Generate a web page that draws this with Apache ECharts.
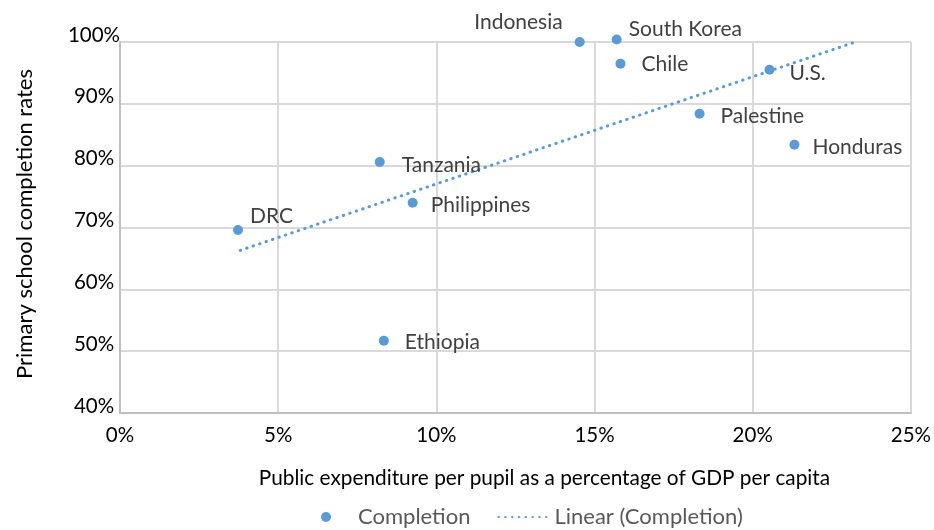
<!DOCTYPE html>
<html>
<head>
<meta charset="utf-8">
<script src="https://cdn.jsdelivr.net/npm/echarts@6/dist/echarts.min.js"></script>
<style>html,body{margin:0;padding:0;background:#fff}#c{width:934px;height:530px}</style>
</head>
<body>
<div id="c"></div>
<script>
// Data (percent values)
const countries = ['DRC','Tanzania','Philippines','Ethiopia','Indonesia','South Korea','Chile','U.S.','Palestine','Honduras'];
const expenditure = [3.73, 8.21, 9.25, 8.34, 14.53, 15.70, 15.82, 20.53, 18.32, 21.32];
const completion = [69.6, 80.6, 74.0, 51.7, 100.0, 100.4, 96.5, 95.5, 88.4, 83.4];
const trendX = [3.8, 23.3];
const trendY = [66.3, 100.1];
const xTicks = [0, 5, 10, 15, 20, 25];
const yTicks = [40, 50, 60, 70, 80, 90, 100];

// Label placement styles (not data)
const labelStyle = {
  'DRC': {position: 'right', distance: 7, offset: [0, -14]},
  'Tanzania': {position: 'right', distance: 17, offset: [0, 3]},
  'Philippines': {position: 'right', distance: 13, offset: [0, 2]},
  'Ethiopia': {position: 'right', distance: 16, offset: [0, 2]},
  'Indonesia': {position: 'left', distance: 12, offset: [0, -20]},
  'South Korea': {position: 'right', distance: 7, offset: [0, -10]},
  'Chile': {position: 'right', distance: 16, offset: [0, 1]},
  'U.S.': {position: 'right', distance: 15, offset: [0, 3]},
  'Palestine': {position: 'right', distance: 16, offset: [0, 3]},
  'Honduras': {position: 'right', distance: 13, offset: [0, 3]}
};

const FONT = 'Lato, "Noto Sans", sans-serif';
const blue = '#5b9bd5';

const scatterData = countries.map((n, i) => ({
  name: n,
  value: [expenditure[i], completion[i]],
  label: Object.assign({show: true, formatter: n}, labelStyle[n])
}));
const trendData = trendX.map((x, i) => [x, trendY[i]]);

const chart = echarts.init(document.getElementById('c'), null, {renderer: 'canvas'});
chart.setOption({
  animation: false,
  backgroundColor: '#fff',
  textStyle: {fontFamily: FONT},
  grid: {left: 120, right: 22, top: 42, bottom: 117, containLabel: false},
  legend: {
    bottom: -3,
    left: 316,
    itemWidth: 48,
    itemHeight: 10,
    itemGap: 27,
    textStyle: {fontFamily: FONT, fontSize: 22, color: '#595959', padding: [0, 0, 0, 3]},
    data: [
      {name: 'Completion', icon: 'circle'},
      {name: 'Linear (Completion)', itemStyle: {opacity: 0}}
    ]
  },
  xAxis: {
    type: 'value',
    min: xTicks[0], max: xTicks[xTicks.length - 1], interval: 5,
    name: 'Public expenditure per pupil as a percentage of GDP per capita',
    nameLocation: 'middle',
    nameGap: 55,
    nameTextStyle: {fontFamily: FONT, fontSize: 20.8, color: '#000', padding: [0, 0, 0, 58]},
    axisLine: {show: true, lineStyle: {color: '#bfbfbf', width: 2}},
    axisTick: {show: false},
    axisLabel: {formatter: v => v + '%', fontFamily: FONT, fontSize: 20.5, color: '#000', margin: 12},
    splitLine: {show: true, lineStyle: {color: '#d9d9d9', width: 2}}
  },
  yAxis: {
    type: 'value',
    min: yTicks[0], max: yTicks[yTicks.length - 1], interval: 10,
    name: 'Primary school completion rates',
    nameLocation: 'middle',
    nameGap: 84,
    nameTextStyle: {fontFamily: FONT, fontSize: 22, color: '#000', padding: [0, 0, 0, 7]},
    axisLine: {show: true, lineStyle: {color: '#bfbfbf', width: 2}},
    axisTick: {show: false},
    axisLabel: {formatter: v => v + '%', fontFamily: FONT, fontSize: 20.5, color: '#000', margin: 26, align: 'center', verticalAlign: 'bottom', lineHeight: 14},
    splitLine: {show: true, lineStyle: {color: '#d9d9d9', width: 2}}
  },
  series: [
    {
      name: 'Completion',
      type: 'scatter',
      symbol: 'circle',
      symbolSize: 10,
      clip: false,
      itemStyle: {color: blue, opacity: 1},
      label: {fontFamily: FONT, fontSize: 21, color: '#404040'},
      data: scatterData,
      z: 3
    },
    {
      name: 'Linear (Completion)',
      type: 'line',
      showSymbol: false,
      symbol: 'none',
      clip: false,
      lineStyle: {color: blue, width: 3, type: [0.5, 6.3], cap: 'round'},
      data: trendData,
      z: 2
    }
  ]
});
</script>
</body>
</html>
